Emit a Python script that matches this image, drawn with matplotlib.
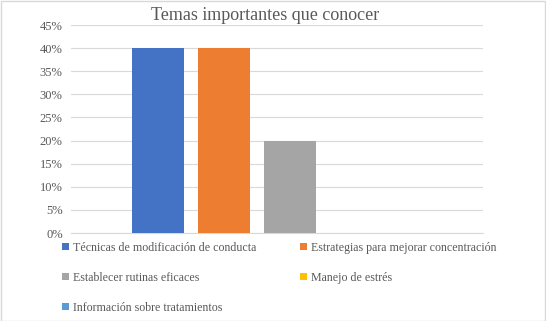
import matplotlib
matplotlib.use("Agg")
import matplotlib.pyplot as plt
from matplotlib.patches import Rectangle

series = ["Técnicas de modificación de conducta",
          "Estrategias para mejorar concentración",
          "Establecer rutinas eficaces",
          "Manejo de estrés",
          "Información sobre tratamientos"]
values = [0.40, 0.40, 0.20, 0.0, 0.0]
colors = ["#4472C4", "#ED7D31", "#A5A5A5", "#FFC000", "#5B9BD5"]
yticks = [0, 0.05, 0.10, 0.15, 0.20, 0.25, 0.30, 0.35, 0.40, 0.45]
ytick_labels = ["0%", "5%", "10%", "15%", "20%", "25%", "30%", "35%", "40%", "45%"]
title = "Temas importantes que conocer"

plt.rcParams['font.family'] = ['Liberation Serif', 'DejaVu Serif']

W, H = 546, 321
fig = plt.figure(figsize=(W / 100, H / 100), dpi=100)
fig.patch.set_facecolor("white")
fig.patches.append(Rectangle((0.5 / W, 0.5 / H), 1 - 1.5 / W, 1 - 1.5 / H, transform=fig.transFigure,
                             fill=False, edgecolor="#D9D9D9", linewidth=1))

ax = fig.add_axes([71 / W, 1 - 233 / H, (483 - 71) / W, (233 - 25) / H])
xs = list(range(len(series)))
bars = []
for x, v, c, s in zip(xs, values, colors, series):
    b = ax.bar(x, v, width=52 / 66, color=c, label=s, zorder=3)
    bars.append(b)

ax.set_xlim((71 - 158) / 66, (483 - 158) / 66)
ax.set_ylim(0, 0.45)
ax.set_yticks(yticks)
ax.set_yticklabels(ytick_labels, color="#595959", fontsize=9)
ax.set_xticks([])
ax.tick_params(axis='y', length=0, pad=6)
ax.grid(axis='y', color="#D9D9D9", linewidth=0.8, zorder=0)
for sp in ["top", "right", "left"]:
    ax.spines[sp].set_visible(False)
ax.spines["bottom"].set_color("#D9D9D9")
ax.spines["bottom"].set_linewidth(0.8)

fig.text(265 / W, 1 - 15.5 / H, title, ha="center", va="center", fontsize=13, color="#595959")

order = [0, 2, 4, 1, 3]
handles = [bars[i] for i in order]
labels = [series[i] for i in order]
leg = fig.legend(handles, labels, ncol=2, loc="upper left",
                 bbox_to_anchor=(62 / W, 1 - 242 / H), frameon=False,
                 fontsize=8.6, handlelength=0.55, handleheight=0.55, handletextpad=0.35,
                 labelspacing=1.5, columnspacing=3.7, borderaxespad=0, borderpad=0)
for t in leg.get_texts():
    t.set_color("#595959")

fig.savefig("out.png", dpi=100)
